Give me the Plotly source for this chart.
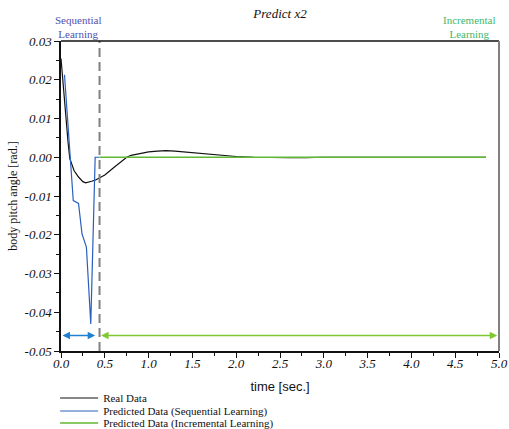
import plotly.graph_objects as go

# ---- data ----
real_t = [0.0, 0.03, 0.05, 0.08, 0.1, 0.12, 0.15, 0.2, 0.25, 0.28, 0.3, 0.35, 0.4, 0.45, 0.5,
          0.6, 0.7, 0.75, 0.8, 0.9, 1.0, 1.1, 1.2, 1.3, 1.4, 1.5, 1.6, 1.8, 2.0, 2.2, 2.4,
          2.6, 2.8, 3.0, 3.5, 4.0, 4.5, 4.85]
real_v = [0.0255, 0.017, 0.0117, 0.004, -0.0003, -0.0017, -0.0035, -0.0051, -0.0063, -0.0066,
          -0.0065, -0.0062, -0.0058, -0.0053, -0.0046, -0.0027, -0.0009, 0.0, 0.0005, 0.0010,
          0.0014, 0.0016, 0.0017, 0.0016, 0.0014, 0.0011, 0.0009, 0.0005, 0.0002, 0.0,
          -0.0001, -0.0001, -0.0001, 0.0, 0.0, 0.0, 0.0, 0.0]

seq_t = [0.04, 0.14, 0.2, 0.24, 0.29, 0.34, 0.39, 0.44]
seq_v = [0.0213, -0.0112, -0.0119, -0.0198, -0.0232, -0.043, 0.0, 0.0]

inc_t = [0.44, 4.85]
inc_v = [0.0, 0.0]

switch_t = 0.44
arrow_y = -0.046
seq_arrow = [0.0, 0.39]
inc_arrow = [0.44, 4.98]

y_ticks = [0.03, 0.02, 0.01, 0.0, -0.01, -0.02, -0.03, -0.04, -0.05]
y_labels = ["0.03", "0.02", "0.01", "0.00", "-0.01", "-0.02", "-0.03", "-0.04", "-0.05"]
x_ticks = [0.0, 0.5, 1.0, 1.5, 2.0, 2.5, 3.0, 3.5, 4.0, 4.5, 5.0]
x_labels = ["0.0", "0.5", "1.0", "1.5", "2.0", "2.5", "3.0", "3.5", "4.0", "4.5", "5.0"]

SERIF = "Liberation Serif, Times New Roman, serif"
SANS = "Liberation Sans, Arial, sans-serif"

fig = go.Figure()
fig.add_trace(go.Scatter(x=real_t, y=real_v, mode="lines", name="Real Data",
                         line=dict(color="#111111", width=1.2), legend="legend"))
fig.add_trace(go.Scatter(x=seq_t, y=seq_v, mode="lines", name="Predicted Data (Sequential Learning)",
                         line=dict(color="#2b5fbd", width=1.2), legend="legend2"))
fig.add_trace(go.Scatter(x=inc_t, y=inc_v, mode="lines", name="Predicted Data (Incremental Learning)",
                         line=dict(color="#5fb832", width=1.5), legend="legend3"))

# switch line
fig.add_shape(type="line", xref="x", yref="paper", x0=switch_t, x1=switch_t, y0=0, y1=1,
              line=dict(color="#808080", width=2, dash="9px,5px"))
# frame top and right
fig.add_shape(type="line", xref="paper", yref="paper", x0=0, x1=1, y0=1, y1=1,
              line=dict(color="#111111", width=1.5))
fig.add_shape(type="line", xref="paper", yref="paper", x0=1, x1=1, y0=0, y1=1,
              line=dict(color="#808080", width=2))

# arrows
fig.add_annotation(x=seq_arrow[1], y=arrow_y, ax=seq_arrow[0], ay=arrow_y, xref="x", yref="y",
                   axref="x", ayref="y", text="", showarrow=True, arrowhead=2, startarrowhead=2,
                   arrowside="end+start", arrowsize=1, startarrowsize=1, arrowwidth=1.5,
                   arrowcolor="#1f7fd0", standoff=0, startstandoff=0)
fig.add_annotation(x=inc_arrow[1], y=arrow_y, ax=inc_arrow[0], ay=arrow_y, xref="x", yref="y",
                   axref="x", ayref="y", text="", showarrow=True, arrowhead=2, startarrowhead=2,
                   arrowside="end+start", arrowsize=1, startarrowsize=1, arrowwidth=1.5,
                   arrowcolor="#80c830", standoff=0, startstandoff=0)

# phase labels
fig.add_annotation(x=0.19, y=1.0, xref="x", yref="paper", yanchor="bottom", showarrow=False,
                   text="Sequential<br>Learning", font=dict(family=SERIF, size=11, color="#5050b0"),
                   yshift=-1)
fig.add_annotation(x=4.66, y=1.0, xref="x", yref="paper", yanchor="bottom", showarrow=False,
                   text="Incremental<br>Learning", font=dict(family=SERIF, size=11, color="#3cb870"),
                   yshift=-1)

legend_common = dict(x=-0.0134, xanchor="left", yanchor="middle", bgcolor="rgba(0,0,0,0)",
                     font=dict(family=SERIF, size=11, color="#111111"), itemwidth=38,
                     borderwidth=0)

fig.update_layout(
    width=509, height=429,
    margin=dict(l=61, r=10, t=41, b=78, autoexpand=False),
    paper_bgcolor="white", plot_bgcolor="white",
    title=dict(text="Predict x2", x=0.5, xref="paper", xanchor="center", y=1 - 13 / 429,
               yanchor="middle", font=dict(family=SERIF, size=13, color="#111111",
                                            style="italic")),
    xaxis=dict(range=[0, 5], tickvals=x_ticks, ticktext=x_labels, ticks="outside", ticklen=5,
               tickwidth=1, tickcolor="#111111", showline=True, linecolor="#111111", linewidth=1.5,
               showgrid=False, zeroline=False, automargin=False, ticklabelstandoff=-5,
               minor=dict(dtick=0.25, ticks="outside", ticklen=3, tickcolor="#111111", showgrid=False),
               tickfont=dict(family=SERIF, size=13, color="#111111", style="italic"),
               title=dict(text="time [sec.]", font=dict(family=SANS, size=13, color="#111111"),
                          standoff=12)),
    yaxis=dict(range=[-0.05, 0.03], tickvals=y_ticks, ticktext=y_labels, ticks="outside", ticklen=5,
               tickwidth=1, tickcolor="#111111", showline=True, linecolor="#111111", linewidth=1.5,
               showgrid=False, zeroline=False, automargin=False,
               minor=dict(dtick=0.005, ticks="outside", ticklen=3, tickcolor="#111111", showgrid=False),
               tickfont=dict(family=SERIF, size=13, color="#111111", style="italic"),
               title=dict(text="body pitch angle [rad.]",
                          font=dict(family=SERIF, size=12, color="#111111"), standoff=4)),
    legend=dict(y=(351 - 398) / 310, **legend_common),
    legend2=dict(y=(351 - 411) / 310, **legend_common),
    legend3=dict(y=(351 - 423) / 310, **legend_common),
    showlegend=True,
)

fig.write_html("out.html", config={"displayModeBar": False},
               post_script="document.body.style.margin='0';document.body.style.overflow='hidden';")
